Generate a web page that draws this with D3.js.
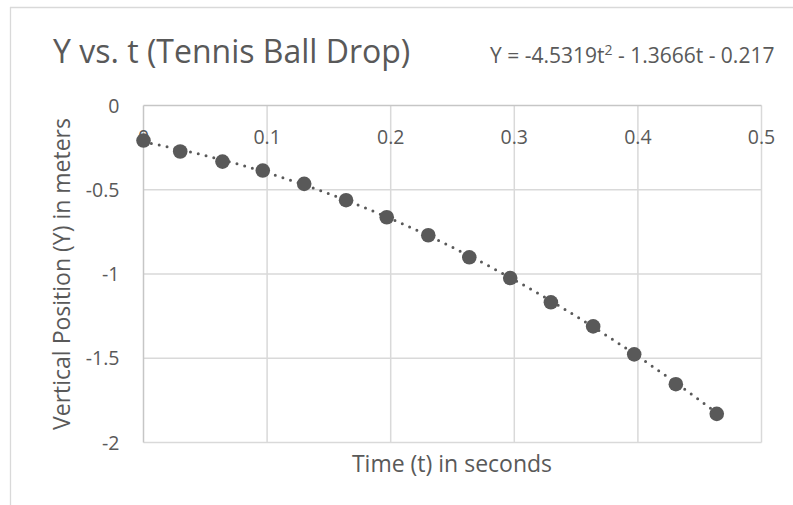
<!DOCTYPE html>
<html>
<head>
<meta charset="utf-8">
<script src="https://cdn.jsdelivr.net/npm/d3@7"></script>
<style>
  html, body { margin: 0; padding: 0; background: #fff; }
  svg { display: block; font-family: "Open Sans", "Noto Sans", sans-serif; }
</style>
</head>
<body>
<svg id="chart" width="793" height="505"></svg>
<script>
// ---- data ----
const times = [0, 0.0297, 0.0639, 0.0965, 0.130, 0.1639, 0.1968, 0.2304, 0.2636, 0.2967, 0.3296, 0.3638, 0.397, 0.4307, 0.4638];
const positions = [-0.208, -0.273, -0.333, -0.386, -0.465, -0.562, -0.663, -0.770, -0.901, -1.024, -1.168, -1.311, -1.477, -1.654, -1.830];
const trendCoefficients = [-4.5319, -1.3666, -0.217]; // a t^2 + b t + c
const xTicks = [0, 0.1, 0.2, 0.3, 0.4, 0.5];
const xTickLabels = ["0", "0.1", "0.2", "0.3", "0.4", "0.5"];
const yTicks = [0, -0.5, -1, -1.5, -2];
const yTickLabels = ["0", "-0.5", "-1", "-1.5", "-2"];
const titleText = "Y vs. t (Tennis Ball Drop)";
const xTitle = "Time (t) in seconds";
const yTitle = "Vertical Position (Y) in meters";

// ---- layout ----
const svg = d3.select("#chart");
const textColor = "#595959";
const gridColor = "#d9d9d9";
const axisColor = "#c6c6c6";

const x = d3.scaleLinear().domain([0, 0.5]).range([143.5, 761.5]);
const y = d3.scaleLinear().domain([-2, 0]).range([442.5, 105.5]);

// outer chart border (top + left visible)
svg.append("line").attr("x1", 10).attr("y1", 7.5).attr("x2", 793).attr("y2", 7.5)
  .attr("stroke", gridColor).attr("stroke-width", 1.3);
svg.append("line").attr("x1", 10.5).attr("y1", 7).attr("x2", 10.5).attr("y2", 505)
  .attr("stroke", gridColor).attr("stroke-width", 1.3);

// gridlines
const grid = svg.append("g");
grid.selectAll("line.vx").data(xTicks.slice(1)).join("line")
  .attr("x1", d => x(d)).attr("x2", d => x(d))
  .attr("y1", y(0)).attr("y2", y(-2))
  .attr("stroke", gridColor).attr("stroke-width", 1.5);
grid.selectAll("line.hy").data(yTicks.slice(1)).join("line")
  .attr("x1", x(0)).attr("x2", x(0.5))
  .attr("y1", d => y(d)).attr("y2", d => y(d))
  .attr("stroke", gridColor).attr("stroke-width", 1.5);

// axes lines (x axis at y=0, y axis at t=0)
svg.append("line").attr("x1", x(0)).attr("x2", x(0.5)).attr("y1", y(0)).attr("y2", y(0))
  .attr("stroke", axisColor).attr("stroke-width", 1.5);
svg.append("line").attr("x1", x(0)).attr("x2", x(0)).attr("y1", y(0)).attr("y2", y(-2))
  .attr("stroke", axisColor).attr("stroke-width", 1.5);

// tick labels
svg.append("g").selectAll("text").data(xTicks).join("text")
  .attr("x", d => x(d)).attr("y", y(0) + 38.5)
  .attr("text-anchor", "middle")
  .attr("font-size", 19.5).attr("fill", textColor)
  .text((d, i) => xTickLabels[i]);
svg.append("g").selectAll("text").data(yTicks).join("text")
  .attr("x", 119.5).attr("y", d => y(d))
  .attr("dy", "0.36em")
  .attr("text-anchor", "end")
  .attr("font-size", 19.5).attr("fill", textColor)
  .text((d, i) => yTickLabels[i]);

// trendline (polynomial order 2, as displayed)
const [a, b, c] = trendCoefficients;
const tMax = d3.max(times);
const trendPts = d3.range(0, 201).map(i => {
  const t = tMax * i / 200;
  return [t, a * t * t + b * t + c];
});
svg.append("path")
  .datum(trendPts)
  .attr("d", d3.line().x(d => x(d[0])).y(d => y(d[1])))
  .attr("fill", "none")
  .attr("stroke", textColor)
  .attr("stroke-width", 3)
  .attr("stroke-linecap", "round")
  .attr("stroke-dasharray", "0 8");

// markers
svg.append("g").selectAll("circle").data(times).join("circle")
  .attr("cx", d => x(d)).attr("cy", (d, i) => y(positions[i]))
  .attr("r", 7.3).attr("fill", textColor);

// title
svg.append("text").attr("x", 53).attr("y", 63)
  .attr("font-size", 32).attr("fill", textColor).text(titleText);

// equation
const eq = svg.append("text").attr("x", 490).attr("y", 62.5)
  .attr("font-size", 21).attr("fill", textColor);
eq.append("tspan").text("Y = -4.5319t");
eq.append("tspan").attr("font-size", 14).attr("dy", -8).text("2");
eq.append("tspan").attr("dy", 8).text(" - 1.3666t - 0.217");

// axis titles
svg.append("text").attr("x", 452).attr("y", 472)
  .attr("text-anchor", "middle").attr("font-size", 23).attr("fill", textColor).text(xTitle);
svg.append("text")
  .attr("transform", "translate(70,274) rotate(-90)")
  .attr("text-anchor", "middle").attr("font-size", 23).attr("fill", textColor).text(yTitle);
</script>
</body>
</html>
